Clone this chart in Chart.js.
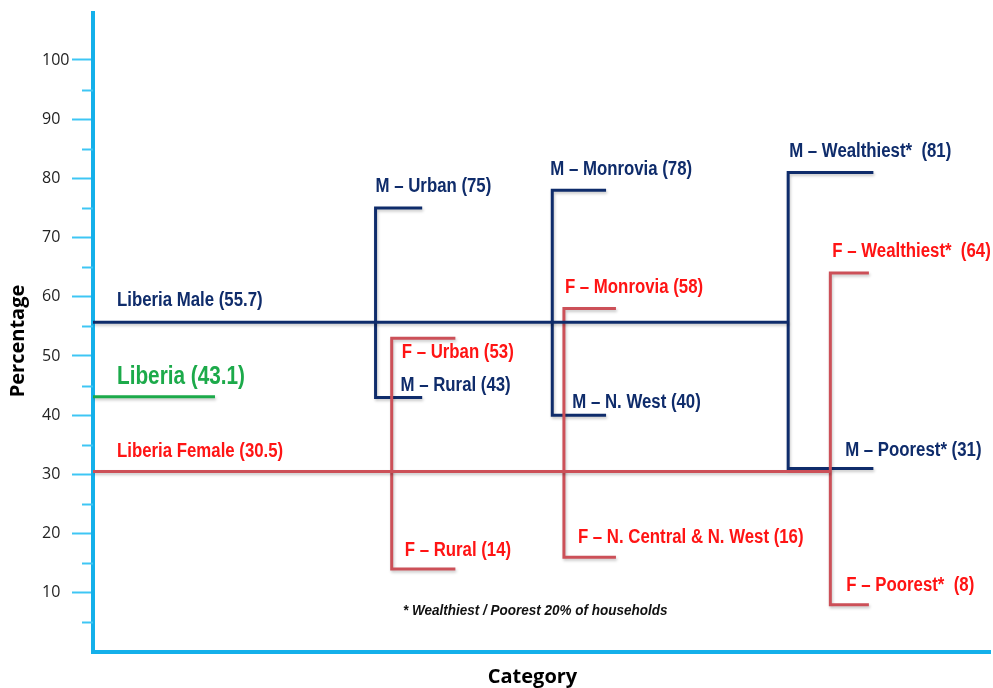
<!DOCTYPE html>
<html>
<head>
<meta charset="utf-8">
<script src="https://cdn.jsdelivr.net/npm/chart.js@4.4.1/dist/chart.umd.min.js"></script>
<style>
  body { margin: 0; background: #fff; }
  #wrap { width: 993px; height: 688px; position: relative; }
</style>
</head>
<body>
<div id="wrap"><canvas id="chart"></canvas></div>
<script>
// national figures
const nationalLabels = ['Liberia Male', 'Liberia', 'Liberia Female'];
const nationalValues = [55.7, 43.1, 30.5];

// sub groups: urban/rural, region, wealth quintile
const maleHighLabels = ['M \u2013 Urban', 'M \u2013 Monrovia', 'M \u2013 Wealthiest* '];
const maleHigh = [75, 78, 81];
const maleLowLabels = ['M \u2013 Rural', 'M \u2013 N. West', 'M \u2013 Poorest*'];
const maleLow = [43, 40, 31];
const femaleHighLabels = ['F \u2013 Urban', 'F \u2013 Monrovia', 'F \u2013 Wealthiest* '];
const femaleHigh = [53, 58, 64];
const femaleLowLabels = ['F \u2013 Rural', 'F \u2013 N. Central & N. West', 'F \u2013 Poorest* '];
const femaleLow = [14, 16, 8];

const yTicks = [10, 20, 30, 40, 50, 60, 70, 80, 90, 100];

// layout (x in axis units 0..100)
const maleX = [31.5, 51.2, 77.5];
const maleEnd = [36.7, 57.2, 87.0];
const femaleX = [33.3, 52.5, 82.2];
const femaleEnd = [40.4, 58.3, 86.5];
const greenEnd = 13.6;

const NAVY = '#0f2c6b';
const RED_LINE = '#cc5058';
const RED_TEXT = '#ff1414';
const GREEN = '#1caa4a';
const CYAN = '#14b0ea';

function seg(points, color) {
  return {
    data: points,
    borderColor: color,
    borderWidth: 3,
    pointRadius: 0,
    tension: 0,
    borderJoinStyle: 'miter',
    fill: false
  };
}

const datasets = [];
datasets.push(seg([{x: 0, y: nationalValues[0]}, {x: maleX[2], y: nationalValues[0]}], NAVY));
datasets.push(seg([{x: 0, y: nationalValues[2]}, {x: femaleX[2], y: nationalValues[2]}], RED_LINE));
datasets.push(seg([{x: 0, y: nationalValues[1]}, {x: greenEnd, y: nationalValues[1]}], GREEN));
for (let i = 0; i < 3; i++) {
  datasets.push(seg([
    {x: femaleEnd[i], y: femaleHigh[i]}, {x: femaleX[i], y: femaleHigh[i]},
    {x: femaleX[i], y: femaleLow[i]}, {x: femaleEnd[i], y: femaleLow[i]}
  ], RED_LINE));
  datasets.push(seg([
    {x: maleEnd[i], y: maleHigh[i]}, {x: maleX[i], y: maleHigh[i]},
    {x: maleX[i], y: maleLow[i]}, {x: maleEnd[i], y: maleLow[i]}
  ], NAVY));
}

const LABEL_FONT = "bold 20px 'Liberation Sans', Arial, sans-serif";
const NARROW = 0.84;

// [dx px from vertical, dy px from line]
const maleHighOff = [[0, -21], [-2, -21], [1, -21]];
const maleLowOff = [[25, -12], [20, -13], [57, -18]];
const femaleHighOff = [[10, 14], [1, -21], [2, -22]];
const femaleLowOff = [[13, -19], [14, -20], [16, -19]];

const shadowPlugin = {
  id: 'shadow',
  beforeDatasetDraw(chart) {
    const ctx = chart.ctx;
    ctx.save();
    ctx.shadowColor = 'rgba(0,0,0,0.22)';
    ctx.shadowBlur = 3;
    ctx.shadowOffsetY = 2;
    ctx.shadowOffsetX = 1;
  },
  afterDatasetDraw(chart) {
    chart.ctx.restore();
  }
};

function narrowText(ctx, text, x, y, font, color, sx) {
  ctx.save();
  ctx.font = font;
  ctx.fillStyle = color;
  ctx.textBaseline = 'middle';
  ctx.textAlign = 'left';
  ctx.translate(x, y);
  ctx.scale(sx, 1);
  ctx.fillText(text, 0, 0);
  ctx.restore();
}

const textPlugin = {
  id: 'texts',
  afterDraw(chart) {
    const ctx = chart.ctx;
    const xs = chart.scales.x, ys = chart.scales.y;
    const area = chart.chartArea;
    ctx.save();

    // minor ticks
    ctx.strokeStyle = '#3ec6f4';
    ctx.lineWidth = 2;
    for (let v = 5; v < 100; v += 10) {
      const y = Math.round(ys.getPixelForValue(v)) + 0.5;
      ctx.beginPath();
      ctx.moveTo(area.left - 11, y);
      ctx.lineTo(area.left, y);
      ctx.stroke();
    }

    function put(text, xv, yv, dx, dy, color, font, sx) {
      narrowText(ctx, text, xs.getPixelForValue(xv) + dx, ys.getPixelForValue(yv) + dy,
        font || LABEL_FONT, color, sx || NARROW);
    }

    put(nationalLabels[0] + ' (' + nationalValues[0] + ')', 0, nationalValues[0], 24, -22, NAVY);
    put(nationalLabels[1] + ' (' + nationalValues[1] + ')', 0, nationalValues[1], 24, -20, GREEN,
      "bold 25px 'Liberation Sans', Arial, sans-serif", 0.83);
    put(nationalLabels[2] + ' (' + nationalValues[2] + ')', 0, nationalValues[2], 24, -20, RED_TEXT);

    for (let i = 0; i < 3; i++) {
      put(maleHighLabels[i] + ' (' + maleHigh[i] + ')', maleX[i], maleHigh[i], maleHighOff[i][0], maleHighOff[i][1], NAVY);
      put(maleLowLabels[i] + ' (' + maleLow[i] + ')', maleX[i], maleLow[i], maleLowOff[i][0], maleLowOff[i][1], NAVY);
      put(femaleHighLabels[i] + ' (' + femaleHigh[i] + ')', femaleX[i], femaleHigh[i], femaleHighOff[i][0], femaleHighOff[i][1], RED_TEXT);
      put(femaleLowLabels[i] + ' (' + femaleLow[i] + ')', femaleX[i], femaleLow[i], femaleLowOff[i][0], femaleLowOff[i][1], RED_TEXT);
    }

    // footnote
    narrowText(ctx, '* Wealthiest / Poorest 20% of households', 403, 611,
      "italic bold 15px 'Liberation Sans', Arial, sans-serif", '#111', 0.9);

    // axis titles
    ctx.font = "bold 20px 'Open Sans', sans-serif";
    ctx.fillStyle = '#000';
    ctx.textAlign = 'center';
    ctx.textBaseline = 'middle';
    ctx.fillText('Category', (area.left + area.right) / 2 - 9, 677);
    ctx.translate(18, 341);
    ctx.rotate(-Math.PI / 2);
    ctx.fillText('Percentage', 0, 0);
    ctx.restore();
  }
};

new Chart(document.getElementById('chart'), {
  type: 'line',
  data: { datasets: datasets },
  plugins: [shadowPlugin, textPlugin],
  options: {
    responsive: true,
    maintainAspectRatio: false,
    animation: false,
    layout: { padding: { left: 42, top: 10, right: 3, bottom: 36 } },
    plugins: {
      legend: { display: false },
      tooltip: { enabled: false }
    },
    scales: {
      x: {
        type: 'linear',
        min: 0,
        max: 100,
        ticks: { display: false },
        grid: { display: false, drawTicks: false },
        border: { color: CYAN, width: 4 },
        afterFit(s) { s.height = 0; }
      },
      y: {
        min: 0,
        max: 108,
        afterBuildTicks(s) {
          s.ticks = yTicks.map(v => ({ value: v }));
        },
        ticks: {
          crossAlign: 'far',
          color: '#222',
          font: { family: "'Open Sans', sans-serif", size: 16 }
        },
        grid: {
          drawOnChartArea: false,
          drawTicks: true,
          tickLength: 21,
          tickColor: '#3ec6f4',
          tickWidth: 2
        },
        border: { color: CYAN, width: 4 },
        afterFit(s) { s.width = 51; }
      }
    }
  }
});
</script>
</body>
</html>
